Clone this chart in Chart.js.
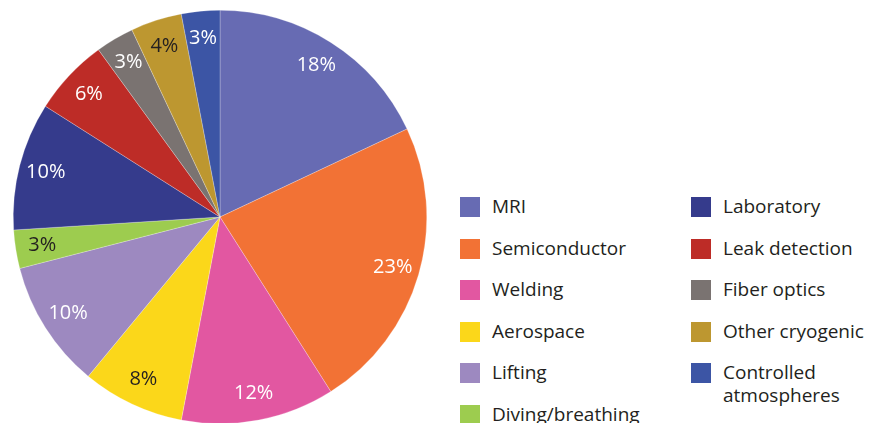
<!DOCTYPE html>
<html>
<head>
<meta charset="utf-8">
<script src="https://cdn.jsdelivr.net/npm/chart.js@4.4.1/dist/chart.umd.min.js"></script>
<style>
  html, body { margin: 0; padding: 0; background: #fff; overflow: hidden; }
  body { width: 869px; height: 423px; position: relative; font-family: "Open Sans", sans-serif; }
  #pieBox { position: absolute; left: 0; top: 0; width: 440px; height: 434px; }
  .item { position: absolute; font-size: 19px; color: #231f20; line-height: 23px; }
  .item .sw { position: absolute; left: 0; top: 0; width: 20px; height: 20px; }
  .item .tx { position: absolute; left: 32px; top: -2px; white-space: nowrap; }
</style>
</head>
<body>
<div id="pieBox"><canvas id="pieChart"></canvas></div>
<div id="legend"></div>
<script>
// 各用途占比（%）
const categories = ["MRI", "Semiconductor", "Welding", "Aerospace", "Lifting", "Diving/breathing",
  "Laboratory", "Leak detection", "Fiber optics", "Other cryogenic", "Controlled atmospheres"];
const shares = [18, 23, 12, 8, 10, 3, 10, 6, 3, 4, 3];
const colors = ["#676bb3", "#f27235", "#e257a1", "#fbd71a", "#9d89c0", "#9dcc4f",
  "#353b8c", "#bd2c27", "#7a7371", "#bd9730", "#3c55a5"];
const labelColors = ["#fff", "#fff", "#fff", "#231f20", "#fff", "#231f20",
  "#fff", "#fff", "#fff", "#231f20", "#fff"];

// 扇区上的百分比文字
const sliceLabels = {
  id: "sliceLabels",
  afterDatasetsDraw(chart) {
    const ctx = chart.ctx;
    const meta = chart.getDatasetMeta(0);
    ctx.save();
    ctx.font = '20px "Open Sans", sans-serif';
    ctx.textAlign = "center";
    ctx.textBaseline = "middle";
    meta.data.forEach((arc, i) => {
      const p = arc.getProps(["x", "y", "startAngle", "endAngle", "outerRadius"], true);
      const mid = (p.startAngle + p.endAngle) / 2;
      const r = p.outerRadius * 0.87;
      ctx.fillStyle = labelColors[i];
      ctx.fillText(shares[i] + "%", p.x + Math.cos(mid) * r, p.y + Math.sin(mid) * r);
    });
    ctx.restore();
  },
};

new Chart(document.getElementById("pieChart"), {
  type: "pie",
  data: {
    labels: categories,
    datasets: [{
      data: shares,
      backgroundColor: colors,
      borderColor: "rgba(255,255,255,0.5)",
      borderWidth: 0.5,
    }],
  },
  options: {
    responsive: true,
    maintainAspectRatio: false,
    animation: false,
    layout: { padding: { top: 10, bottom: 10, left: 13, right: 13 } },
    plugins: {
      legend: { display: false },
      tooltip: { enabled: false },
    },
  },
  plugins: [sliceLabels],
});

// 两列图例
const legend = document.getElementById("legend");
categories.forEach((name, i) => {
  const col = i < 6 ? 0 : 1;
  const row = i < 6 ? i : i - 6;
  const el = document.createElement("div");
  el.className = "item";
  el.style.left = (col ? 691 : 460) + "px";
  el.style.top = (197 + row * 41.6) + "px";
  const text = name === "Controlled atmospheres" ? "Controlled<br>atmospheres" : name;
  el.innerHTML = '<div class="sw" style="background:' + colors[i] + '"></div><div class="tx">' + text + "</div>";
  legend.appendChild(el);
});
</script>
</body>
</html>
